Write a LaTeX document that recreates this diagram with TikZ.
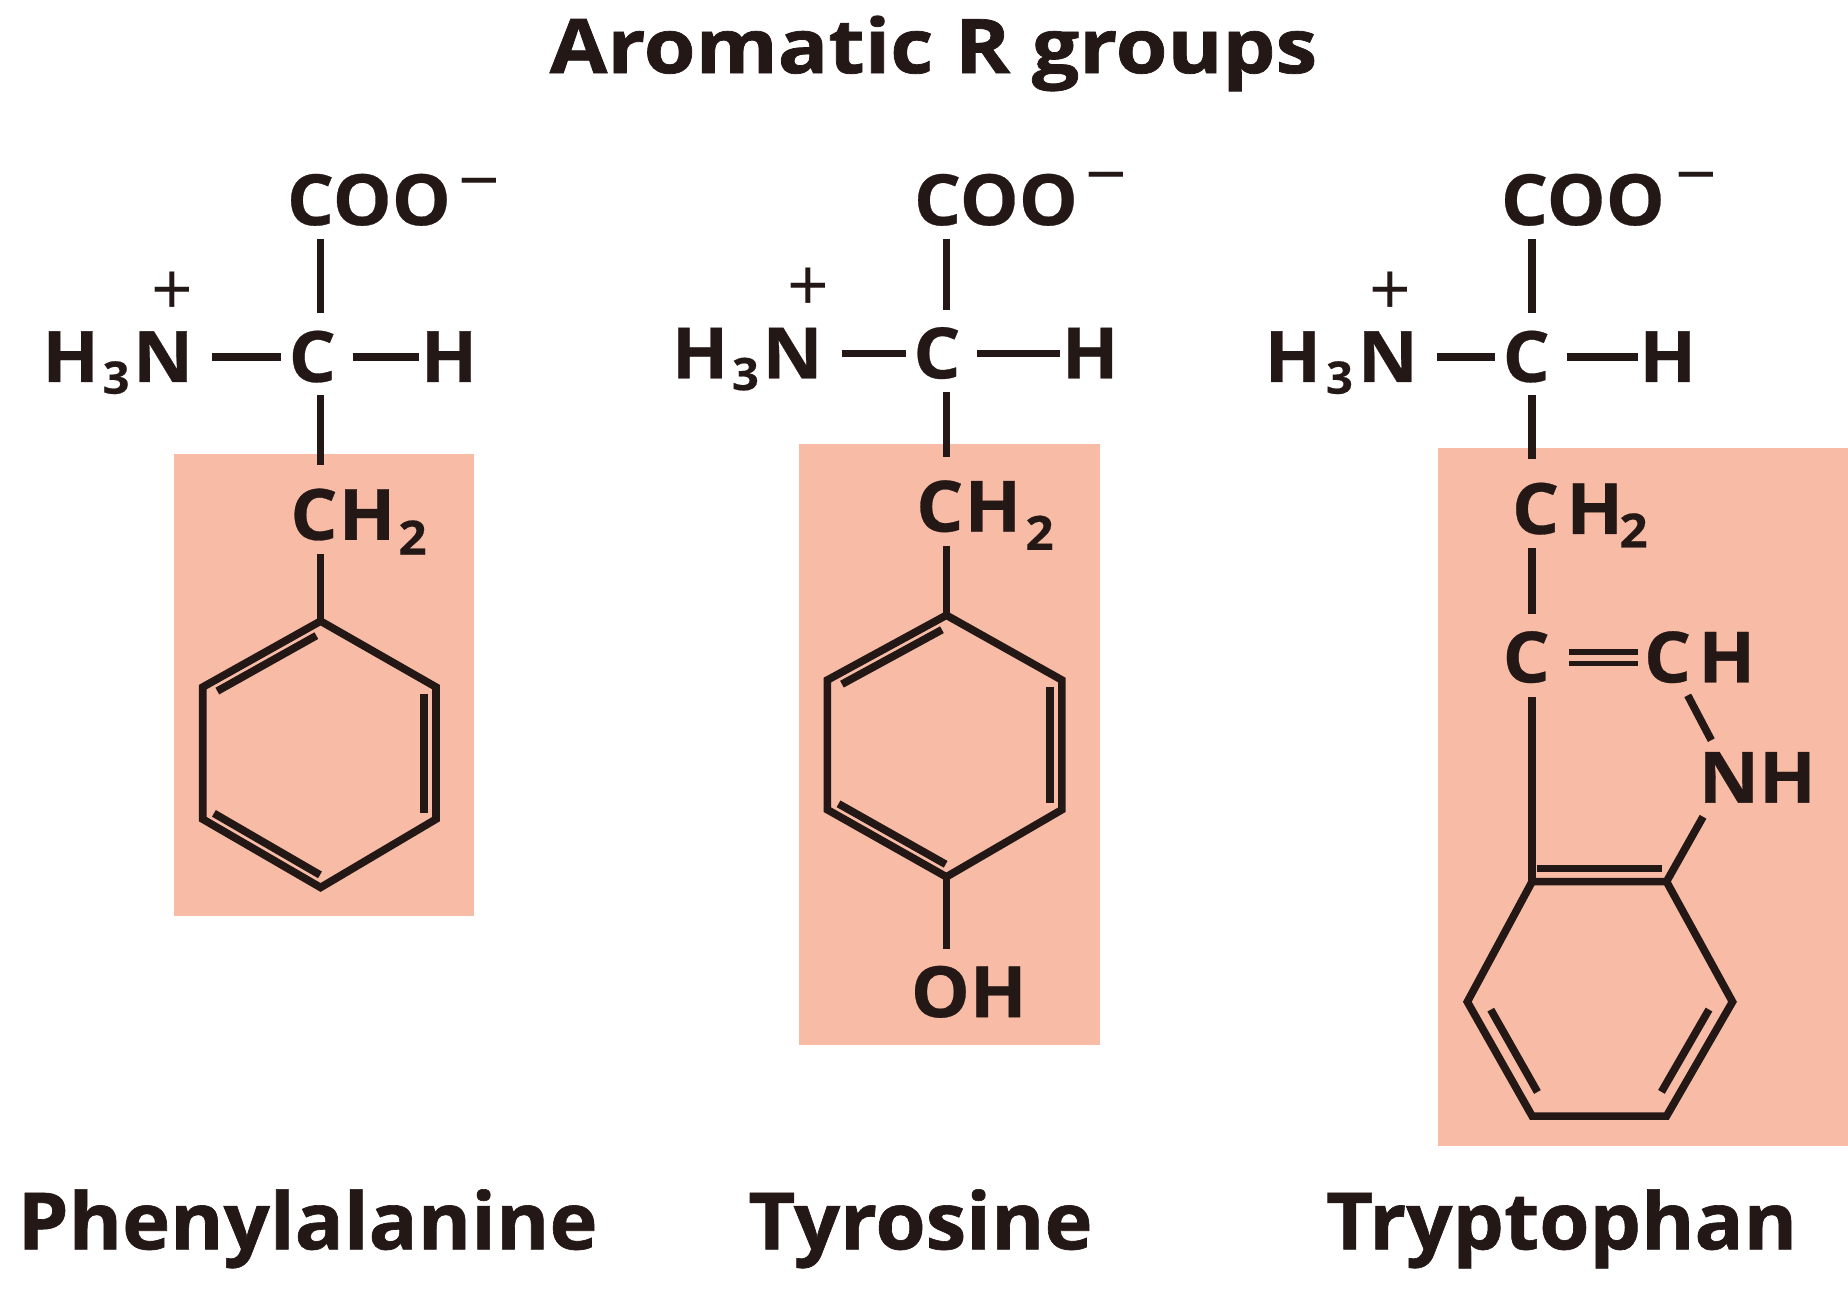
\documentclass[tikz,border=0pt]{standalone}
\usepackage{fontspec}
\setmainfont{Open Sans}
\newfontfamily\atomfont[FakeStretch=1.05,FakeBold=0.4]{Open Sans}
\newfontfamily\headfont[FakeStretch=1.11,FakeBold=1]{Open Sans}
\newfontfamily\namefont[FakeStretch=1.03,FakeBold=0.8]{Open Sans}
\usetikzlibrary{calc}
\definecolor{ink}{HTML}{231815}
\definecolor{rgroup}{HTML}{F8BBA5}
\tikzset{
  x=1pt,y=-1pt,
  bond/.style={draw=ink,line width=6.5pt,line cap=butt,line join=miter},
  upa/.style={shorten <=-4pt},
  upb/.style={shorten <=-5pt,shorten >=5pt},
  left bond/.style={shorten <=10pt},
  right bond/.style={shorten <=8pt,shorten >=-5pt},
  rbox/.style={fill=rgroup,draw=none},
  atom/.style={text=ink,font=\fontsize{60}{60}\atomfont\bfseries,inner xsep=6pt,inner ysep=16pt,text height=42pt,text depth=0pt,anchor=center},
  sub/.style={text=ink,font=\fontsize{40}{40}\atomfont\bfseries,inner sep=0pt,anchor=center},
  charge/.style={text=ink,font=\fontsize{62}{62}\selectfont,inner sep=0pt,anchor=center},
  title/.style={text=ink,font=\fontsize{64}{64}\headfont\bfseries,inner sep=0pt,anchor=base},
  aname/.style={text=ink,font=\fontsize{67}{67}\namefont\bfseries,inner sep=0pt,anchor=base}
}
\newcommand{\dbl}[4]{\draw[bond] ($(#1)!#3!(#2)!#4!-90:(#2)$) -- ($(#2)!#3!(#1)!#4!90:(#1)$);}
\newcommand{\nthree}[1]{H\kern#1\raisebox{-10pt}{\fontsize{38}{38}\selectfont 3}\kern#1 N}
\begin{document}
\begin{tikzpicture}
\useasboundingbox (0,0) rectangle (1568,1092.9);
\fill[white] (0,0) rectangle (1568,1092.9);
\node[title] (ttl) at (792,62) {Aromatic R groups};
\node[aname] (n1) at (261,1060) {Phenylalanine};
\node[aname] (n2) at (781,1060) {Tyrosine};
\node[aname] (n3) at (1325,1060) {Tryptophan};

\fill[rbox] (148,385) rectangle (402,777);
\fill[rbox] (678,377) rectangle (933,887);
\fill[rbox] (1220,380) rectangle (1568,972);

% --- Phenylalanine
\coordinate (ax1) at (272,0);
\node[atom] (coo1) at (313,170) {COO};
\node[charge] (min1) at (407,163) {−};
\node[charge] (pls1) at (146,249) {+};
\node[atom] (nh1) at (100,303) {\nthree{3pt}};
\node[atom] (c1) at (265,303) {C};
\node[atom] (h1) at (381,303) {H};
\node[atom] (ch1) at (291,437) {C\kern1ptH};
\node[sub] (two1) at (350,456) {2};
\coordinate (r1a) at (272,527); \coordinate (r1b) at (370,583); \coordinate (r1c) at (370,695);
\coordinate (r1d) at (272,753); \coordinate (r1e) at (172,695); \coordinate (r1f) at (172,583);
\draw[bond,upa] (coo1.south -| ax1) -- (c1.north -| ax1);
\draw[bond,left bond] (nh1.east) -- (c1.west);
\draw[bond,right bond] (c1.east) -- (h1.west);
\draw[bond,upb] (c1.south -| ax1) -- (ch1.north -| ax1);
\draw[bond,upa] (ch1.south -| ax1) -- (r1a);
\draw[bond] (r1a) -- (r1b) -- (r1c) -- (r1d) -- (r1e) -- (r1f) -- cycle;
\dbl{r1f}{r1a}{.08}{9pt}
\dbl{r1b}{r1c}{.05}{10pt}
\dbl{r1d}{r1e}{.05}{9pt}

% --- Tyrosine
\coordinate (ax2) at (803,0);
\node[atom] (coo2) at (845,170) {COO};
\node[charge] (min2) at (939,158) {−};
\node[charge] (pls2) at (686,246) {+};
\node[atom] (nh2) at (634,300) {\nthree{3pt}};
\node[atom] (c2) at (795,300) {C};
\node[atom] (h2) at (925,300) {H};
\node[atom] (ch2) at (822,430) {C\kern1ptH};
\node[sub] (two2) at (882,452) {2};
\node[atom] (oh) at (822,842) {OH};
\coordinate (r2a) at (803,522); \coordinate (r2b) at (901,577); \coordinate (r2c) at (901,687);
\coordinate (r2d) at (803,744); \coordinate (r2e) at (702,687); \coordinate (r2f) at (702,577);
\draw[bond,upa] (coo2.south -| ax2) -- (c2.north -| ax2);
\draw[bond,left bond] (nh2.east) -- (c2.west);
\draw[bond,right bond] (c2.east) -- (h2.west);
\draw[bond,upb] (c2.south -| ax2) -- (ch2.north -| ax2);
\draw[bond,upa] (ch2.south -| ax2) -- (r2a);
\draw[bond] (r2d) -- (oh.north -| ax2);
\draw[bond] (r2a) -- (r2b) -- (r2c) -- (r2d) -- (r2e) -- (r2f) -- cycle;
\dbl{r2f}{r2a}{.08}{9pt}
\dbl{r2b}{r2c}{.05}{10pt}
\dbl{r2d}{r2e}{.05}{9pt}

% --- Tryptophan
\coordinate (ax3) at (1300,0);
\node[atom] (coo3) at (1343,170) {COO};
\node[charge] (min3) at (1439,158) {−};
\node[charge] (pls3) at (1180,249) {+};
\node[atom] (nh3) at (1138,303) {\nthree{4pt}};
\node[atom] (c3) at (1295,303) {C};
\node[atom] (h3) at (1415,303) {H};
\node[atom] (ch3) at (1330,432) {C\kern6ptH};
\node[sub] (two3) at (1386,450) {2};
\node[atom,inner xsep=16pt] (cq) at (1295,558) {C};
\node[atom,inner xsep=5pt] (cht) at (1442,558) {C\kern6ptH};
\node[atom] (nht) at (1491,660) {NH};
\coordinate (b1) at (1300,748); \coordinate (b2) at (1414,748); \coordinate (b3) at (1470,850);
\coordinate (b4) at (1414,947); \coordinate (b5) at (1300,947); \coordinate (b6) at (1245,850);
\coordinate (e1) at (1432,590); \coordinate (e2) at (1452,628); \coordinate (e3) at (1445,693);
\draw[bond,upa] (coo3.south -| ax3) -- (c3.north -| ax3);
\draw[bond,left bond] (nh3.east) -- (c3.west);
\draw[bond,right bond] (c3.east) -- (h3.west);
\draw[bond,upb] (c3.south -| ax3) -- (ch3.north -| ax3);
\draw[bond,upa] (ch3.south -| ax3) -- (cq.north -| ax3);
\draw[bond,upa] (cq.south -| ax3) -- (b1);
\draw[bond,line width=5pt] ($(cq.east)+(0,-5)$) -- ($(cht.west)+(0,-5)$);
\draw[bond,line width=5pt] ($(cq.east)+(0,5)$) -- ($(cht.west)+(0,5)$);
\draw[bond] (e1) -- (e2);
\draw[bond] (e3) -- (b2);
\draw[bond] (b1) -- (b2) -- (b3) -- (b4) -- (b5) -- (b6) -- cycle;
\draw[bond] ($(b1)+(4,-11)$) -- ($(b2)+(-4,-11)$);
\dbl{b3}{b4}{.14}{14pt}
\dbl{b5}{b6}{.14}{14pt}
\end{tikzpicture}
\end{document}
